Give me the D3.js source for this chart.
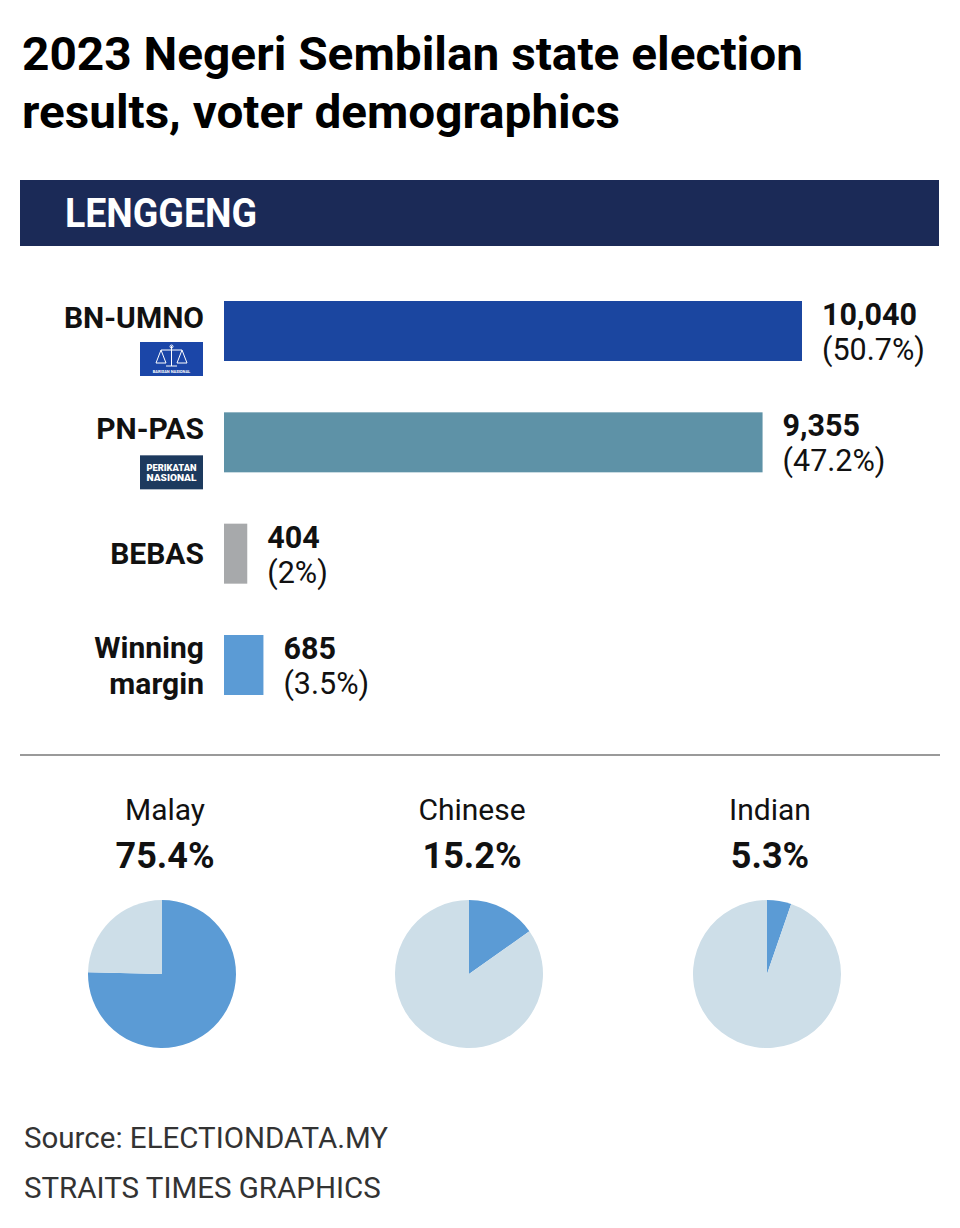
<!DOCTYPE html>
<html>
<head>
<meta charset="utf-8">
<script src="https://cdn.jsdelivr.net/npm/d3@7"></script>
<style>
  html, body { margin: 0; padding: 0; background: #fff; }
  svg { display: block; font-family: Roboto, "Noto Sans", sans-serif; }
</style>
</head>
<body>
<svg id="chart" width="960" height="1228"></svg>
<script>
// ---- data ----
const titleLines = ["2023 Negeri Sembilan state election", "results, voter demographics"];
const seatName = "LENGGENG";
const parties = ["BN-UMNO", "PN-PAS", "BEBAS", "Winning margin"];
const votes = [10040, 9355, 404, 685];
const shares = ["50.7%", "47.2%", "2%", "3.5%"];
const groups = ["Malay", "Chinese", "Indian"];
const groupShares = [75.4, 15.2, 5.3];
const sourceLines = ["Source: ELECTIONDATA.MY", "STRAITS TIMES GRAPHICS"];

// ---- styles ----
const barColors = ["#1b46a0", "#5e92a7", "#a7a9ab", "#5b9bd5"];
const pieOn = "#5b9bd5", pieOff = "#cddee8";

const svg = d3.select("#chart");

// title
svg.selectAll("text.title").data(titleLines).join("text")
  .attr("class", "title")
  .attr("x", 22).attr("y", (d, i) => 70 + i * 58)
  .attr("font-size", 46).attr("font-weight", 700).attr("fill", "#000")
  .attr("textLength", (d, i) => i === 0 ? 781 : 598)
  .attr("lengthAdjust", "spacingAndGlyphs")
  .text(d => d);

// header band
svg.append("rect").attr("x", 20).attr("y", 180).attr("width", 919).attr("height", 66).attr("fill", "#1b2a57");
svg.append("text").attr("x", 65).attr("y", 227)
  .attr("font-size", 40).attr("font-weight", 700).attr("fill", "#fff")
  .attr("textLength", 192).attr("lengthAdjust", "spacingAndGlyphs")
  .text(seatName);

// bars
const x = d3.scaleLinear().domain([0, d3.max(votes)]).range([224, 802]);
const y = d3.scalePoint().domain(parties).range([301, 635]);
const barH = 60;
const rows = parties.map((p, i) => ({ party: p, votes: votes[i], share: shares[i], color: barColors[i] }));

const g = svg.append("g");
g.selectAll("rect.bar").data(rows).join("rect")
  .attr("class", "bar")
  .attr("x", x(0)).attr("y", d => y(d.party))
  .attr("width", d => x(d.votes) - x(0)).attr("height", barH)
  .attr("fill", d => d.color);

// value labels
const fmt = d3.format(",");
rows.forEach(d => {
  const tx = x(d.votes) + 20;
  const t = g.append("text").attr("x", tx).attr("font-size", 30.5).attr("fill", "#111");
  t.append("tspan").attr("x", tx).attr("y", y(d.party) + 24).attr("font-weight", 700).text(fmt(d.votes));
  t.append("tspan").attr("x", tx).attr("y", y(d.party) + 59).attr("font-weight", 400).text("(" + d.share + ")");
});

// category labels
rows.forEach(d => {
  const words = d.party === "Winning margin" ? ["Winning", "margin"] : [d.party];
  const t = g.append("text").attr("text-anchor", "end").attr("font-size", 30).attr("font-weight", 700).attr("fill", "#111");
  if (words.length === 1) {
    const yy = (d.party === "BEBAS") ? y(d.party) + 40 : y(d.party) + 27;
    t.append("tspan").attr("x", 204).attr("y", yy).text(words[0]);
  } else {
    words.forEach((w, k) => t.append("tspan").attr("x", 204).attr("y", y(d.party) + 23 + k * 36).text(w));
  }
});

// BN logo
const bnY = y("BN-UMNO") + 41;
const bn = g.append("g").attr("transform", `translate(140,${bnY})`);
bn.append("rect").attr("width", 63).attr("height", 34).attr("fill", "#1b46a8");
const sc = bn.append("g").attr("stroke", "#fff").attr("stroke-width", 1).attr("fill", "none");
sc.append("line").attr("x1", 31.5).attr("y1", 4).attr("x2", 31.5).attr("y2", 24);
sc.append("line").attr("x1", 21).attr("y1", 8).attr("x2", 42).attr("y2", 8);
sc.append("line").attr("x1", 26).attr("y1", 24).attr("x2", 37).attr("y2", 24);
sc.append("path").attr("d", "M21,8 L16,21 L26,21 Z");
sc.append("path").attr("d", "M42,8 L37,21 L47,21 Z");
sc.append("circle").attr("cx", 31.5).attr("cy", 4.5).attr("r", 1.5);
bn.append("text").attr("x", 31.5).attr("y", 30.5).attr("text-anchor", "middle")
  .attr("font-size", 4).attr("font-weight", 700).attr("fill", "#fff").text("BARISAN NASIONAL");

// PN logo
const pnY = y("PN-PAS") + 43;
const pn = g.append("g").attr("transform", `translate(140,${pnY})`);
pn.append("rect").attr("width", 63).attr("height", 34).attr("fill", "#1d3a5e");
pn.append("text").attr("x", 31.5).attr("y", 16).attr("text-anchor", "middle")
  .attr("font-size", 9).attr("font-weight", 900).attr("fill", "#fff")
  .attr("textLength", 50).attr("lengthAdjust", "spacingAndGlyphs").text("PERIKATAN");
pn.append("text").attr("x", 31.5).attr("y", 26).attr("text-anchor", "middle")
  .attr("font-size", 9).attr("font-weight", 900).attr("fill", "#fff")
  .attr("textLength", 50).attr("lengthAdjust", "spacingAndGlyphs").text("NASIONAL");

// separator
svg.append("line").attr("x1", 20).attr("x2", 940).attr("y1", 755).attr("y2", 755)
  .attr("stroke", "#9a9a9a").attr("stroke-width", 2);

// pies
const px = d3.scaleOrdinal().domain(groups).range([162, 469, 767]);
const pieR = 74, pieCY = 974;
const arc = d3.arc().innerRadius(0).outerRadius(pieR);
const pie = d3.pie().sort(null).value(d => d);

groups.forEach((grp, i) => {
  const cx = px(grp);
  const pg = svg.append("g").attr("transform", `translate(${cx},${pieCY})`);
  pg.selectAll("path").data(pie([groupShares[i], 100 - groupShares[i]])).join("path")
    .attr("d", arc).attr("fill", (d, k) => k === 0 ? pieOn : pieOff);
  svg.append("text").attr("x", cx + 3).attr("y", 820).attr("text-anchor", "middle")
    .attr("font-size", 30).attr("font-weight", 400).attr("fill", "#111").text(grp);
  svg.append("text").attr("x", cx + 3).attr("y", 868).attr("text-anchor", "middle")
    .attr("font-size", 36).attr("font-weight", 700).attr("fill", "#111").text(groupShares[i] + "%");
});

// source
svg.selectAll("text.src").data(sourceLines).join("text")
  .attr("class", "src")
  .attr("x", 24).attr("y", (d, i) => 1148 + i * 50)
  .attr("font-size", 29.5).attr("fill", "#333")
  .text(d => d);
</script>
</body>
</html>
